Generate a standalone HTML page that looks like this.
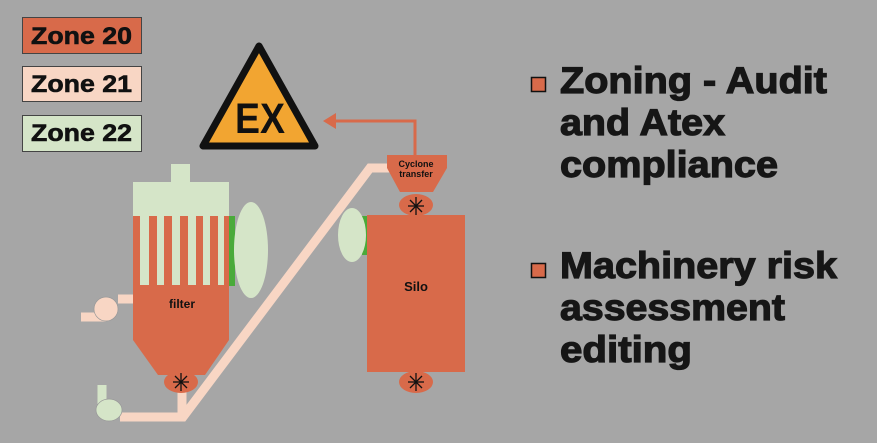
<!DOCTYPE html>
<html><head><style>html,body{margin:0;padding:0;background:#a6a6a6}svg{display:block}text{font-weight:bold}</style></head>
<body>
<svg width="877" height="443" viewBox="0 0 877 443" xmlns="http://www.w3.org/2000/svg" font-family="'Liberation Sans', sans-serif" font-weight="bold">
<rect width="877" height="443" fill="#a6a6a6"/>
<!-- zones -->
<rect x="22.5" y="17.5" width="119" height="36" fill="#d86a4a" stroke="#444"/>
<rect x="22.5" y="66.5" width="119" height="35" fill="#f8d6c4" stroke="#444"/>
<rect x="22.5" y="115.5" width="119" height="36" fill="#d5e5c8" stroke="#444"/>
<g font-size="24" fill="#111" stroke="#111" stroke-width="0.6">
<text x="31" y="44" textLength="101" lengthAdjust="spacingAndGlyphs">Zone 20</text>
<text x="31" y="92" textLength="101" lengthAdjust="spacingAndGlyphs">Zone 21</text>
<text x="31" y="141" textLength="101" lengthAdjust="spacingAndGlyphs">Zone 22</text>
</g>
<!-- triangle -->
<polygon points="259,46 203,146 315,146" fill="#f2a531" stroke="#111" stroke-width="7" stroke-linejoin="round"/>
<text x="235" y="133" font-size="43" textLength="50" lengthAdjust="spacingAndGlyphs" fill="#111">EX</text>
<!-- arrow -->
<polyline points="415,155 415,121 334,121" fill="none" stroke="#d86a4a" stroke-width="3"/>
<polygon points="323,121 336,113 336,129" fill="#d86a4a"/>
<!-- pipes -->
<g fill="none" stroke="#f8d6c4" stroke-width="9">
<polyline points="120,417 183,417 370,168 390,168"/>
<line x1="182" y1="390" x2="182" y2="417"/>
<polyline points="81,317 106,317"/>
<polyline points="118,299 134,299"/>
<line x1="102" y1="385" x2="102" y2="404" stroke="#d5e5c8"/>
</g>
<circle cx="106" cy="309" r="12" fill="#f8d6c4" stroke="#999" stroke-width="0.7"/>
<ellipse cx="109" cy="410" rx="13" ry="11" fill="#d5e5c8" stroke="#999" stroke-width="0.7"/>
<!-- filter -->
<rect x="171" y="164" width="19" height="19" fill="#d5e5c8"/>
<rect x="133" y="182" width="96" height="35" fill="#d5e5c8"/>
<rect x="133" y="216" width="96" height="70" fill="#d86a4a"/>
<g fill="#d5e5c8">
<rect x="140" y="216" width="9" height="70"/><rect x="157" y="216" width="7" height="70"/>
<rect x="172" y="216" width="8" height="70"/><rect x="188" y="216" width="8" height="70"/>
<rect x="203" y="216" width="7" height="70"/><rect x="218" y="216" width="6" height="70"/>
</g>
<rect x="229" y="216" width="6" height="70" fill="#4aaa3a"/>
<ellipse cx="251" cy="250" rx="17" ry="48" fill="#d5e5c8"/>
<polygon points="133,285 229,285 229,340 205,375 158,375 133,340" fill="#d86a4a"/>
<text x="182" y="308" font-size="12" text-anchor="middle" fill="#111">filter</text>
<ellipse cx="181" cy="382" rx="17" ry="11" fill="#d86a4a"/>
<!-- silo -->
<rect x="367" y="215" width="98" height="157" fill="#d86a4a"/>
<rect x="362" y="216" width="5" height="39" fill="#4aaa3a"/>
<ellipse cx="352" cy="235" rx="14" ry="27" fill="#d5e5c8"/>
<text x="416" y="291" font-size="13" text-anchor="middle" fill="#111">Silo</text>
<ellipse cx="416" cy="382" rx="17" ry="11" fill="#d86a4a"/>
<!-- cyclone -->
<polygon points="387,155 447,155 447,168 433,192 400,192 387,168" fill="#d86a4a"/>
<text x="416" y="167" font-size="9" text-anchor="middle" fill="#111">Cyclone</text>
<text x="416" y="177" font-size="9" text-anchor="middle" fill="#111">transfer</text>
<ellipse cx="416" cy="205" rx="17" ry="11" fill="#d86a4a"/>
<!-- asterisks -->
<g stroke="#111" stroke-width="1.3">
<g transform="translate(181,382)"><line x1="0" y1="-9" x2="0" y2="9"/><line x1="-8" y1="0" x2="8" y2="0"/><line x1="-6" y1="-6" x2="6" y2="6"/><line x1="-6" y1="6" x2="6" y2="-6"/></g>
<g transform="translate(416,206)"><line x1="0" y1="-9" x2="0" y2="9"/><line x1="-8" y1="0" x2="8" y2="0"/><line x1="-6" y1="-6" x2="6" y2="6"/><line x1="-6" y1="6" x2="6" y2="-6"/></g>
<g transform="translate(416,382)"><line x1="0" y1="-9" x2="0" y2="9"/><line x1="-8" y1="0" x2="8" y2="0"/><line x1="-6" y1="-6" x2="6" y2="6"/><line x1="-6" y1="6" x2="6" y2="-6"/></g>
</g>
<!-- right text -->
<rect x="531.5" y="77.5" width="14" height="14" fill="#d86a4a" stroke="#111" stroke-width="1.5"/>
<rect x="531.5" y="263.5" width="14" height="14" fill="#d86a4a" stroke="#111" stroke-width="1.5"/>
<g font-size="37" fill="#161616" stroke="#161616" stroke-width="1.2">
<text x="560" y="93" textLength="267" lengthAdjust="spacingAndGlyphs">Zoning - Audit</text>
<text x="560" y="135" textLength="165" lengthAdjust="spacingAndGlyphs">and Atex</text>
<text x="560" y="177" textLength="218" lengthAdjust="spacingAndGlyphs">compliance</text>
<text x="560" y="278" textLength="277" lengthAdjust="spacingAndGlyphs">Machinery risk</text>
<text x="560" y="320" textLength="225" lengthAdjust="spacingAndGlyphs">assessment</text>
<text x="560" y="362" textLength="132" lengthAdjust="spacingAndGlyphs">editing</text>
</g>
</svg>
</body></html>
